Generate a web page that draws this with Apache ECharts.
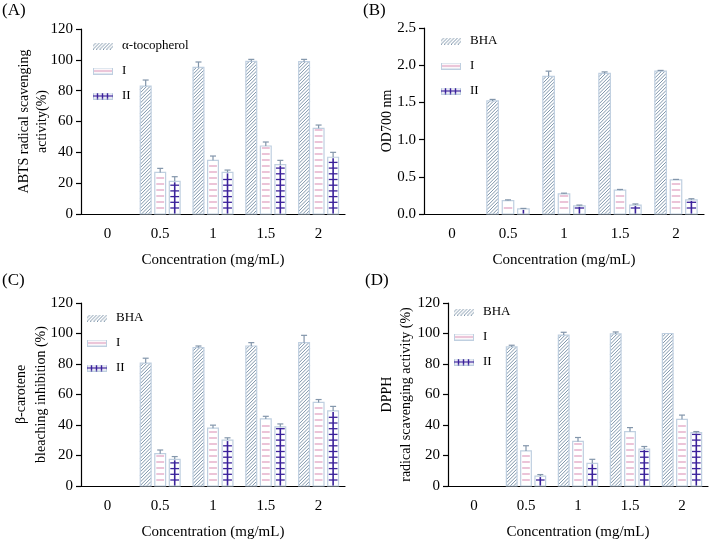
<!DOCTYPE html>
<html>
<head>
<meta charset="utf-8">
<script src="https://cdn.jsdelivr.net/npm/echarts@6/dist/echarts.min.js"></script>
<style>html,body{margin:0;padding:0;background:#fff;}#chart{width:709px;height:541px;}</style>
</head>
<body>
<div id="chart"></div>
<script>
// ---------- data ----------
const categories = ['0', '0.5', '1', '1.5', '2'];

// (A) ABTS radical scavenging activity (%)
const abtsToco    = [0, 83.0, 95.1, 99.0, 98.8];
const abtsTocoErr = [0, 3.9, 3.5, 1.3, 1.5];
const abtsI       = [0, 27.0, 34.8, 44.1, 55.6];
const abtsIErr    = [0, 2.6, 2.8, 2.6, 2.1];
const abtsII      = [0, 21.2, 27.0, 32.0, 36.8];
const abtsIIErr   = [0, 3.0, 1.5, 2.8, 3.2];

// (B) Reducing power OD700 nm
const odBHA    = [0, 1.52, 1.85, 1.89, 1.92];
const odBHAErr = [0, 0.02, 0.07, 0.02, 0.01];
const odI      = [0, 0.18, 0.27, 0.32, 0.46];
const odIErr   = [0, 0.01, 0.01, 0.01, 0.005];
const odII     = [0, 0.07, 0.11, 0.12, 0.19];
const odIIErr  = [0, 0.005, 0.01, 0.015, 0.015];

// (C) beta-carotene bleaching inhibition (%)
const betaBHA    = [0, 80.6, 90.8, 91.8, 94.0];
const betaBHAErr = [0, 3.2, 1.0, 2.2, 4.8];
const betaI      = [0, 21.2, 37.9, 44.0, 54.8];
const betaIErr   = [0, 2.4, 2.0, 1.7, 1.9];
const betaII     = [0, 17.5, 30.1, 38.8, 49.2];
const betaIIErr  = [0, 1.8, 1.5, 1.9, 3.0];

// (D) DPPH radical scavenging activity (%)
const dpphBHA    = [0, 91.2, 99.0, 99.7, 100.0];
const dpphBHAErr = [0, 1.1, 1.8, 1.3, 0];
const dpphI      = [0, 23.0, 29.2, 35.7, 43.7];
const dpphIErr   = [0, 3.4, 2.6, 2.6, 2.8];
const dpphII     = [0, 6.5, 14.9, 24.2, 35.0];
const dpphIIErr  = [0, 1.0, 2.6, 1.7, 0.7];

const pctTicks = [0, 20, 40, 60, 80, 100, 120];
const odTicks  = [0.0, 0.5, 1.0, 1.5, 2.0, 2.5];

// ---------- styles ----------
const FONT = 'Liberation Serif';
const BORDER = '#bfcfe0';
const HATCH = '#7f96ab';
const PINK = '#df9dbe';
const DARK = '#3a219b';
const ERR = '#8396ab';

function rowsOf(vals, errs) {
  return vals.map((v, i) => [i, v, errs[i]]);
}

function makeRender(kind, k) {
  return function (params, api) {
    const v = api.value(1);
    const e = api.value(2);
    if (!v) return { type: 'group', children: [] };
    const base = api.coord([api.value(0), 0]);
    const top = api.coord([api.value(0), v]);
    const band = api.size([1, 0])[0];
    const w = band * 0.205;
    const cx = base[0] + k * band * 0.275;
    const x0 = cx - w / 2, x1 = cx + w / 2, y0 = top[1], y1 = base[1];
    const ch = [];
    ch.push({ type: 'rect', shape: { x: x0, y: y0, width: w, height: y1 - y0 }, style: { fill: '#fff' } });
    if (kind === 'hatch') {
      for (let c = x0 + y0; c <= x1 + y1; c += 3.4) {
        const xa = Math.max(x0, c - y1), xb = Math.min(x1, c - y0);
        if (xb > xa) ch.push({ type: 'line', shape: { x1: xa, y1: c - xa, x2: xb, y2: c - xb }, style: { stroke: HATCH, lineWidth: 1 } });
      }
    } else if (kind === 'hline') {
      for (let y = y1 - 6; y > y0 + 1.5; y -= 6) {
        ch.push({ type: 'line', shape: { x1: x0 + 1.5, y1: y, x2: x1 - 1.5, y2: y }, style: { stroke: PINK, lineWidth: 1.2 } });
      }
    } else if (kind === 'cross') {
      for (let y = y1 - 6; y > y0 + 1.5; y -= 5.7) {
        ch.push({ type: 'line', shape: { x1: x0 + 1, y1: y, x2: x1 - 1, y2: y }, style: { stroke: DARK, lineWidth: 1.3 } });
      }
      ch.push({ type: 'line', shape: { x1: cx, y1: y0 + 1, x2: cx, y2: y1 }, style: { stroke: DARK, lineWidth: 1.6 } });
    }
    ch.push({ type: 'rect', shape: { x: x0, y: y0, width: w, height: y1 - y0 }, style: { fill: 'none', stroke: BORDER, lineWidth: 1.2 } });
    if (e > 0) {
      const et = api.coord([api.value(0), v + e])[1];
      ch.push({ type: 'line', shape: { x1: cx, y1: y0, x2: cx, y2: et }, style: { stroke: ERR, lineWidth: 1.2 } });
      ch.push({ type: 'line', shape: { x1: cx - 3, y1: et, x2: cx + 3, y2: et }, style: { stroke: ERR, lineWidth: 1.2 } });
    }
    return { type: 'group', children: ch };
  };
}

// legend swatch: 20x7 pattern plus 4px transparent spacer on the right
function makeIcon(kind) {
  const c = document.createElement('canvas');
  c.width = 24; c.height = 7;
  const g = c.getContext('2d');
  g.save();
  g.beginPath(); g.rect(0, 0, 20, 7); g.clip();
  g.fillStyle = '#fff'; g.fillRect(0, 0, 20, 7);
  if (kind === 'hatch') {
    g.strokeStyle = HATCH; g.lineWidth = 1;
    for (let s = -7; s < 27; s += 3.4) { g.beginPath(); g.moveTo(s, 7); g.lineTo(s + 7, 0); g.stroke(); }
  } else if (kind === 'hline') {
    g.strokeStyle = BORDER; g.lineWidth = 1; g.strokeRect(0.5, 0.5, 19, 6);
    g.strokeStyle = PINK; g.lineWidth = 1.3; g.beginPath(); g.moveTo(1, 3.5); g.lineTo(19, 3.5); g.stroke();
  } else {
    g.strokeStyle = BORDER; g.lineWidth = 1; g.strokeRect(0.5, 0.5, 19, 6);
    g.strokeStyle = DARK; g.lineWidth = 1.4; g.beginPath(); g.moveTo(0, 3.5); g.lineTo(20, 3.5); g.stroke();
    [4.5, 9.5, 14.5].forEach(x => { g.beginPath(); g.moveTo(x, 0.5); g.lineTo(x, 6.5); g.stroke(); });
  }
  g.restore();
  return 'image://' + c.toDataURL();
}
const ICONS = { hatch: makeIcon('hatch'), hline: makeIcon('hline'), cross: makeIcon('cross') };

const panels = [
  { label: '(A)', lx: 2, ly: 2, grid: { left: 81, top: 29, width: 264, height: 185 },
    yMax: 120, yInt: 20, fmt: v => String(v), yName: 'ABTS radical scavenging\nactivity(%)', yLH: 18, yGap: 30,
    legend: { left: 93, top: 38 },
    series: [['α-tocopherol', 'hatch', abtsToco, abtsTocoErr], ['I', 'hline', abtsI, abtsIErr], ['II', 'cross', abtsII, abtsIIErr]] },
  { label: '(B)', lx: 363, ly: 2, grid: { left: 424, top: 28, width: 280, height: 186 },
    yMax: 2.5, yInt: 0.5, fmt: v => v.toFixed(1), yName: 'OD700 nm', yLH: 16, yGap: 29,
    legend: { left: 441, top: 33 },
    series: [['BHA', 'hatch', odBHA, odBHAErr], ['I', 'hline', odI, odIErr], ['II', 'cross', odII, odIIErr]] },
  { label: '(C)', lx: 2, ly: 272, grid: { left: 81, top: 303, width: 264, height: 185 },
    yMax: 120, yInt: 20, fmt: v => String(v), yName: 'β-carotene\nbleaching inhibition (%)', yLH: 20, yGap: 30,
    legend: { left: 87, top: 310 },
    series: [['BHA', 'hatch', betaBHA, betaBHAErr], ['I', 'hline', betaI, betaIErr], ['II', 'cross', betaII, betaIIErr]] },
  { label: '(D)', lx: 365, ly: 272, grid: { left: 448, top: 303, width: 260, height: 185 },
    yMax: 120, yInt: 20, fmt: v => String(v), yName: 'DPPH\nradical scavenging activity (%)', yLH: 19, yGap: 32,
    legend: { left: 454, top: 304 },
    series: [['BHA', 'hatch', dpphBHA, dpphBHAErr], ['I', 'hline', dpphI, dpphIErr], ['II', 'cross', dpphII, dpphIIErr]] }
];

const option = {
  animation: false,
  backgroundColor: '#fff',
  textStyle: { fontFamily: FONT },
  grid: [], xAxis: [], yAxis: [], series: [], legend: [], graphic: []
};

panels.forEach((p, i) => {
  option.grid.push(Object.assign({ containLabel: false }, p.grid));
  option.xAxis.push({
    type: 'category', gridIndex: i, data: categories, boundaryGap: true,
    name: 'Concentration (mg/mL)', nameLocation: 'middle', nameGap: 39, nameMoveOverlap: false,
    nameTextStyle: { fontFamily: FONT, fontSize: 15, color: '#000' },
    axisLine: { lineStyle: { color: '#000', width: 1.2 } },
    axisTick: { alignWithLabel: true, length: 5, lineStyle: { color: '#000', width: 1.2 } },
    axisLabel: { fontFamily: FONT, fontSize: 15, color: '#000', margin: 13 },
    splitLine: { show: false }
  });
  option.yAxis.push({
    type: 'value', gridIndex: i, min: 0, max: p.yMax, interval: p.yInt,
    name: p.yName, nameLocation: 'middle', nameGap: p.yGap, nameRotate: 90, nameMoveOverlap: false,
    nameTextStyle: { fontFamily: FONT, fontSize: 14, color: '#000', lineHeight: p.yLH, align: 'center' },
    axisLine: { show: true, lineStyle: { color: '#000', width: 1.2 } },
    axisTick: { show: true, length: 5, lineStyle: { color: '#000', width: 1.2 } },
    axisLabel: { fontFamily: FONT, fontSize: 15, color: '#000', margin: 8, formatter: p.fmt },
    splitLine: { show: false }
  });
  p.series.forEach((s, k) => {
    option.series.push({
      type: 'custom', name: s[0], xAxisIndex: i, yAxisIndex: i,
      encode: { x: 0, y: 1 },
      renderItem: makeRender(s[1], k - 1),
      data: rowsOf(s[2], s[3]),
      itemStyle: { color: s[1] === 'cross' ? DARK : (s[1] === 'hline' ? PINK : HATCH) }
    });
  });
  option.legend.push({
    orient: 'vertical', left: p.legend.left, top: p.legend.top, padding: 0,
    itemWidth: 24, itemHeight: 7, itemGap: 9, selectedMode: false,
    textStyle: { fontFamily: FONT, fontSize: 13, color: '#000', lineHeight: 16 },
    data: p.series.map(s => ({ name: s[0], icon: ICONS[s[1]] }))
  });
  option.graphic.push({
    type: 'text', left: p.lx, top: p.ly,
    style: { text: p.label, fontFamily: FONT, fontSize: 17, fill: '#000' }
  });
});

const chart = echarts.init(document.getElementById('chart'), null, { renderer: 'canvas' });
chart.setOption(option);
</script>
</body>
</html>
